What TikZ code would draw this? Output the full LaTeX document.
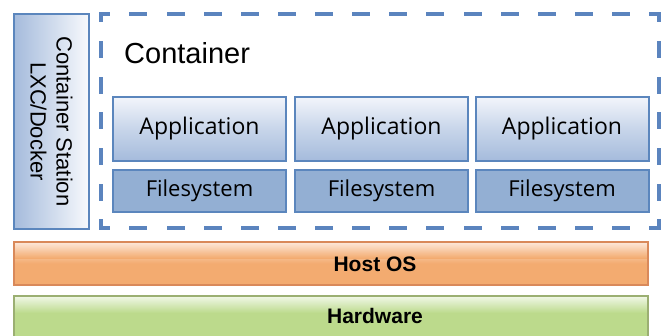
\documentclass[tikz,border=0pt]{standalone}
\usepackage{fontspec}
\setmainfont{Liberation Sans}
\newfontfamily\appfont{Open Sans}
\definecolor{appborder}{HTML}{5B86BD}
\definecolor{apptop}{HTML}{F3F6FB}
\definecolor{appbot}{HTML}{A5BBDC}
\definecolor{fsfill}{HTML}{93AFD3}
\definecolor{dashcol}{HTML}{5B84BE}
\definecolor{hosttop}{HTML}{FDE9DB}
\definecolor{hostbot}{HTML}{F3AB70}
\definecolor{hostborder}{HTML}{D9895A}
\definecolor{hwtop}{HTML}{F1F8E8}
\definecolor{hwbot}{HTML}{BCDA8C}
\definecolor{hwborder}{HTML}{9BAF72}
\tikzset{
  appbox/.style={draw=appborder, line width=2pt, top color=apptop, bottom color=appbot, middle color=appbot!55!apptop, minimum width=173pt, minimum height=64pt, inner sep=0pt, font=\appfont\fontsize{23}{26}\selectfont},
  fsbox/.style={draw=appborder, line width=2pt, fill=fsfill, minimum width=173pt, minimum height=42pt, inner sep=0pt, font=\appfont\fontsize{22}{26}\selectfont},
  layer/.style={line width=2pt},
  lbl/.style={font=\fontsize{21}{24}\selectfont\bfseries, inner sep=0pt},
  hdash/.style={draw=dashcol, line width=4pt, line cap=rect, dash pattern=on 14pt off 23.13pt, dash phase=7pt},
  vdash/.style={draw=dashcol, line width=4pt, line cap=rect, dash pattern=on 13pt off 22.67pt, dash phase=6.5pt},
}
\begin{document}
\begin{tikzpicture}[x=1pt,y=-1pt]
\useasboundingbox (0,0) rectangle (666,335);
% left station box
\node[draw=appborder, line width=2pt, left color=appbot, right color=apptop!60!white, minimum width=75pt, minimum height=215pt, inner sep=0pt] (station) at (51.5,121.5) {};
\node[rotate=-90, align=center, font=\fontsize{22}{26}\selectfont, inner sep=0pt] (stationtxt) at (station.center) {Container Station\\LXC/Docker};
% dashed container
\node[minimum width=557pt, minimum height=214pt, inner sep=0pt] (container) at (380,121) {};
\draw[hdash] (container.north west) -- (container.north east);
\draw[hdash] (container.south west) -- (container.south east);
\draw[vdash] (container.north west) -- (container.south west);
\draw[vdash] (container.north east) -- (container.south east);
\node[anchor=west, font=\fontsize{29}{32}\selectfont, inner sep=0pt] (ctitle) at (124,53) {Container};
% apps
\node[appbox] (app1) at (199.5,128.5) {Application};
\node[appbox] (app2) at (381.5,128.5) {Application};
\node[appbox] (app3) at (562,128.5) {Application};
\node[fsbox] (fs1) at (199.5,191) {Filesystem};
\node[fsbox] (fs2) at (381.5,191) {Filesystem};
\node[fsbox] (fs3) at (562,191) {Filesystem};
% host os
\shade[top color=hosttop, bottom color=hostbot, middle color=hostbot] (14,242) rectangle (648,285);
\shade[top color=hosttop, bottom color=hostbot] (14,242) rectangle (648,258);
\draw[draw=hostborder, layer] (14,242) rectangle (648,285);
\node[lbl] (host) at (375,264) {Host OS};
% hardware
\shade[top color=hwtop, bottom color=hwbot] (14,296) rectangle (648,313);
\fill[hwbot] (14,313) rectangle (648,340);
\draw[draw=hwborder, layer] (14,340) -- (14,296) -- (648,296) -- (648,340);
\node[lbl] (hw) at (375,316) {Hardware};
\end{tikzpicture}
\end{document}
